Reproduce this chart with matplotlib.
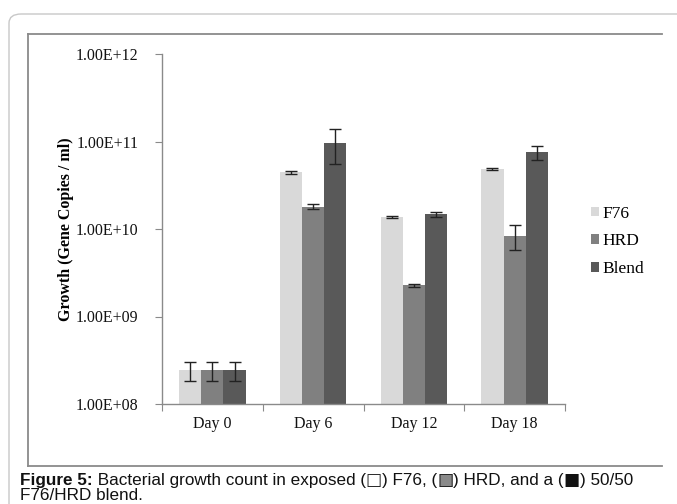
import matplotlib
matplotlib.use("Agg")
import matplotlib.pyplot as plt
import numpy as np
from matplotlib.patches import FancyBboxPatch
from matplotlib.lines import Line2D

categories = ["Day 0", "Day 6", "Day 12", "Day 18"]
series = ["F76", "HRD", "Blend"]
f76 = [2.45e8, 4.45e10, 1.37e10, 4.85e10]
f76_err = [0.6e8, 0.2e10, 0.03e10, 0.1e10]
hrd = [2.45e8, 1.80e10, 2.28e9, 8.4e9]
hrd_err = [0.6e8, 0.11e10, 0.1e9, 2.6e9]
blend = [2.45e8, 9.7e10, 1.47e10, 7.5e10]
blend_err = [0.6e8, 4.1e10, 0.11e10, 1.4e10]
colors = ["#d9d9d9", "#808080", "#595959"]
ytick_vals = [1e8, 1e9, 1e10, 1e11, 1e12]
ytick_labels = ["1.00E+08", "1.00E+09", "1.00E+10", "1.00E+11", "1.00E+12"]

W, H = 677, 504
fig = plt.figure(figsize=(W / 100, H / 100), dpi=100)

def fx(px):
    return px / W

def fy(py):
    return 1 - py / H

# outer rounded frame
outer = FancyBboxPatch((fx(9), fy(520)), fx(700), fy(14) - fy(520),
                       boxstyle="round,pad=0,rounding_size=0.018",
                       transform=fig.transFigure, fill=False,
                       edgecolor="#c8c8c8", linewidth=1.0)
fig.patches.append(outer)
# inner chart frame (right side cut off)
fr = dict(color="#8a8a8a", linewidth=1.3, transform=fig.transFigure)
fig.lines.append(Line2D([fx(28), fx(662)], [fy(34), fy(34)], **fr))
fig.lines.append(Line2D([fx(28), fx(28)], [fy(34), fy(466)], **fr))
fig.lines.append(Line2D([fx(28), fx(662)], [fy(466), fy(466)], **fr))

ax = fig.add_axes([fx(162), fy(404), fx(565 - 162), fy(54) - fy(404)])
x = np.arange(len(categories))
bw = 0.22
vals = [f76, hrd, blend]
errs = [f76_err, hrd_err, blend_err]
for i, (v, e, c, name) in enumerate(zip(vals, errs, colors, series)):
    ax.bar(x + (i - 1) * bw, v, bw, color=c, label=name, yerr=e,
           error_kw=dict(ecolor="#222222", elinewidth=1.0, capsize=4, capthick=1.0),
           zorder=2)

ax.set_yscale("log")
ax.set_ylim(1e8, 1e12)
ax.set_xlim(-0.5, len(categories) - 0.5)
ax.set_yticks(ytick_vals)
ax.set_yticklabels(ytick_labels)
ax.yaxis.set_minor_locator(matplotlib.ticker.NullLocator())
ax.set_xticks(np.arange(len(categories) + 1) - 0.5)
ax.set_xticklabels([])
ax.set_xticks(x, minor=True)
ax.set_xticklabels(categories, minor=True)
ax.tick_params(axis="x", which="minor", length=0, pad=9)
ax.tick_params(axis="x", which="major", length=5, color="#8a8a8a", direction="out")
ax.tick_params(axis="y", length=5, color="#8a8a8a", direction="out", pad=12)
for lab in ax.get_yticklabels() + ax.get_xticklabels(minor=True):
    lab.set_fontfamily("Liberation Serif")
    lab.set_fontsize(11.5)
    lab.set_color("#111111")
for s in ["top", "right"]:
    ax.spines[s].set_visible(False)
for s in ["left", "bottom"]:
    ax.spines[s].set_color("#8a8a8a")
    ax.spines[s].set_linewidth(1.0)

ax.set_ylabel("Growth (Gene Copies / ml)", fontfamily="Liberation Serif",
              fontsize=11.5, fontweight="bold")
ax.yaxis.set_label_coords((74 - 162) / 403, 0.5)

leg = fig.legend(loc="upper left", bbox_to_anchor=(fx(582), fy(197)),
                 frameon=False, prop=dict(family="Liberation Serif", size=12.5),
                 handlelength=0.5, handleheight=0.5, handletextpad=0.2,
                 labelspacing=0.68, borderpad=0)

# caption
renderer = fig.canvas.get_renderer()
def put(xpx, ypx, s, size, **kw):
    t = fig.text(fx(xpx), fy(ypx), s, va="center", ha="left", fontsize=size, **kw)
    bb = t.get_window_extent(renderer=renderer)
    return xpx + bb.width

cap = dict(family="Liberation Sans", color="#111111")
cs = 12.3
xp = 20
yp = 480
xp = put(xp, yp, "Figure 5:", cs, fontweight="bold", **cap)
xp = put(xp, yp, " Bacterial growth count in exposed (", cs, **cap)
xs = xp
xp = put(xs, yp, "□", cs, family="DejaVu Sans", color="#222222")
xp = put(xp, yp, ") F76, (", cs, **cap)
xs = xp
put(xs, yp, "■", cs, family="DejaVu Sans", color="#8a8a8a")
xp = put(xs, yp, "□", cs, family="DejaVu Sans", color="#222222")
xp = put(xp, yp, ") HRD, and a (", cs, **cap)
xp = put(xp, yp, "■", cs, family="DejaVu Sans", color="#111111")
xp = put(xp, yp, ") 50/50", cs, **cap)
put(20, 495.5, "F76/HRD blend.", cs, **cap)

fig.savefig("out.png", dpi=100)
